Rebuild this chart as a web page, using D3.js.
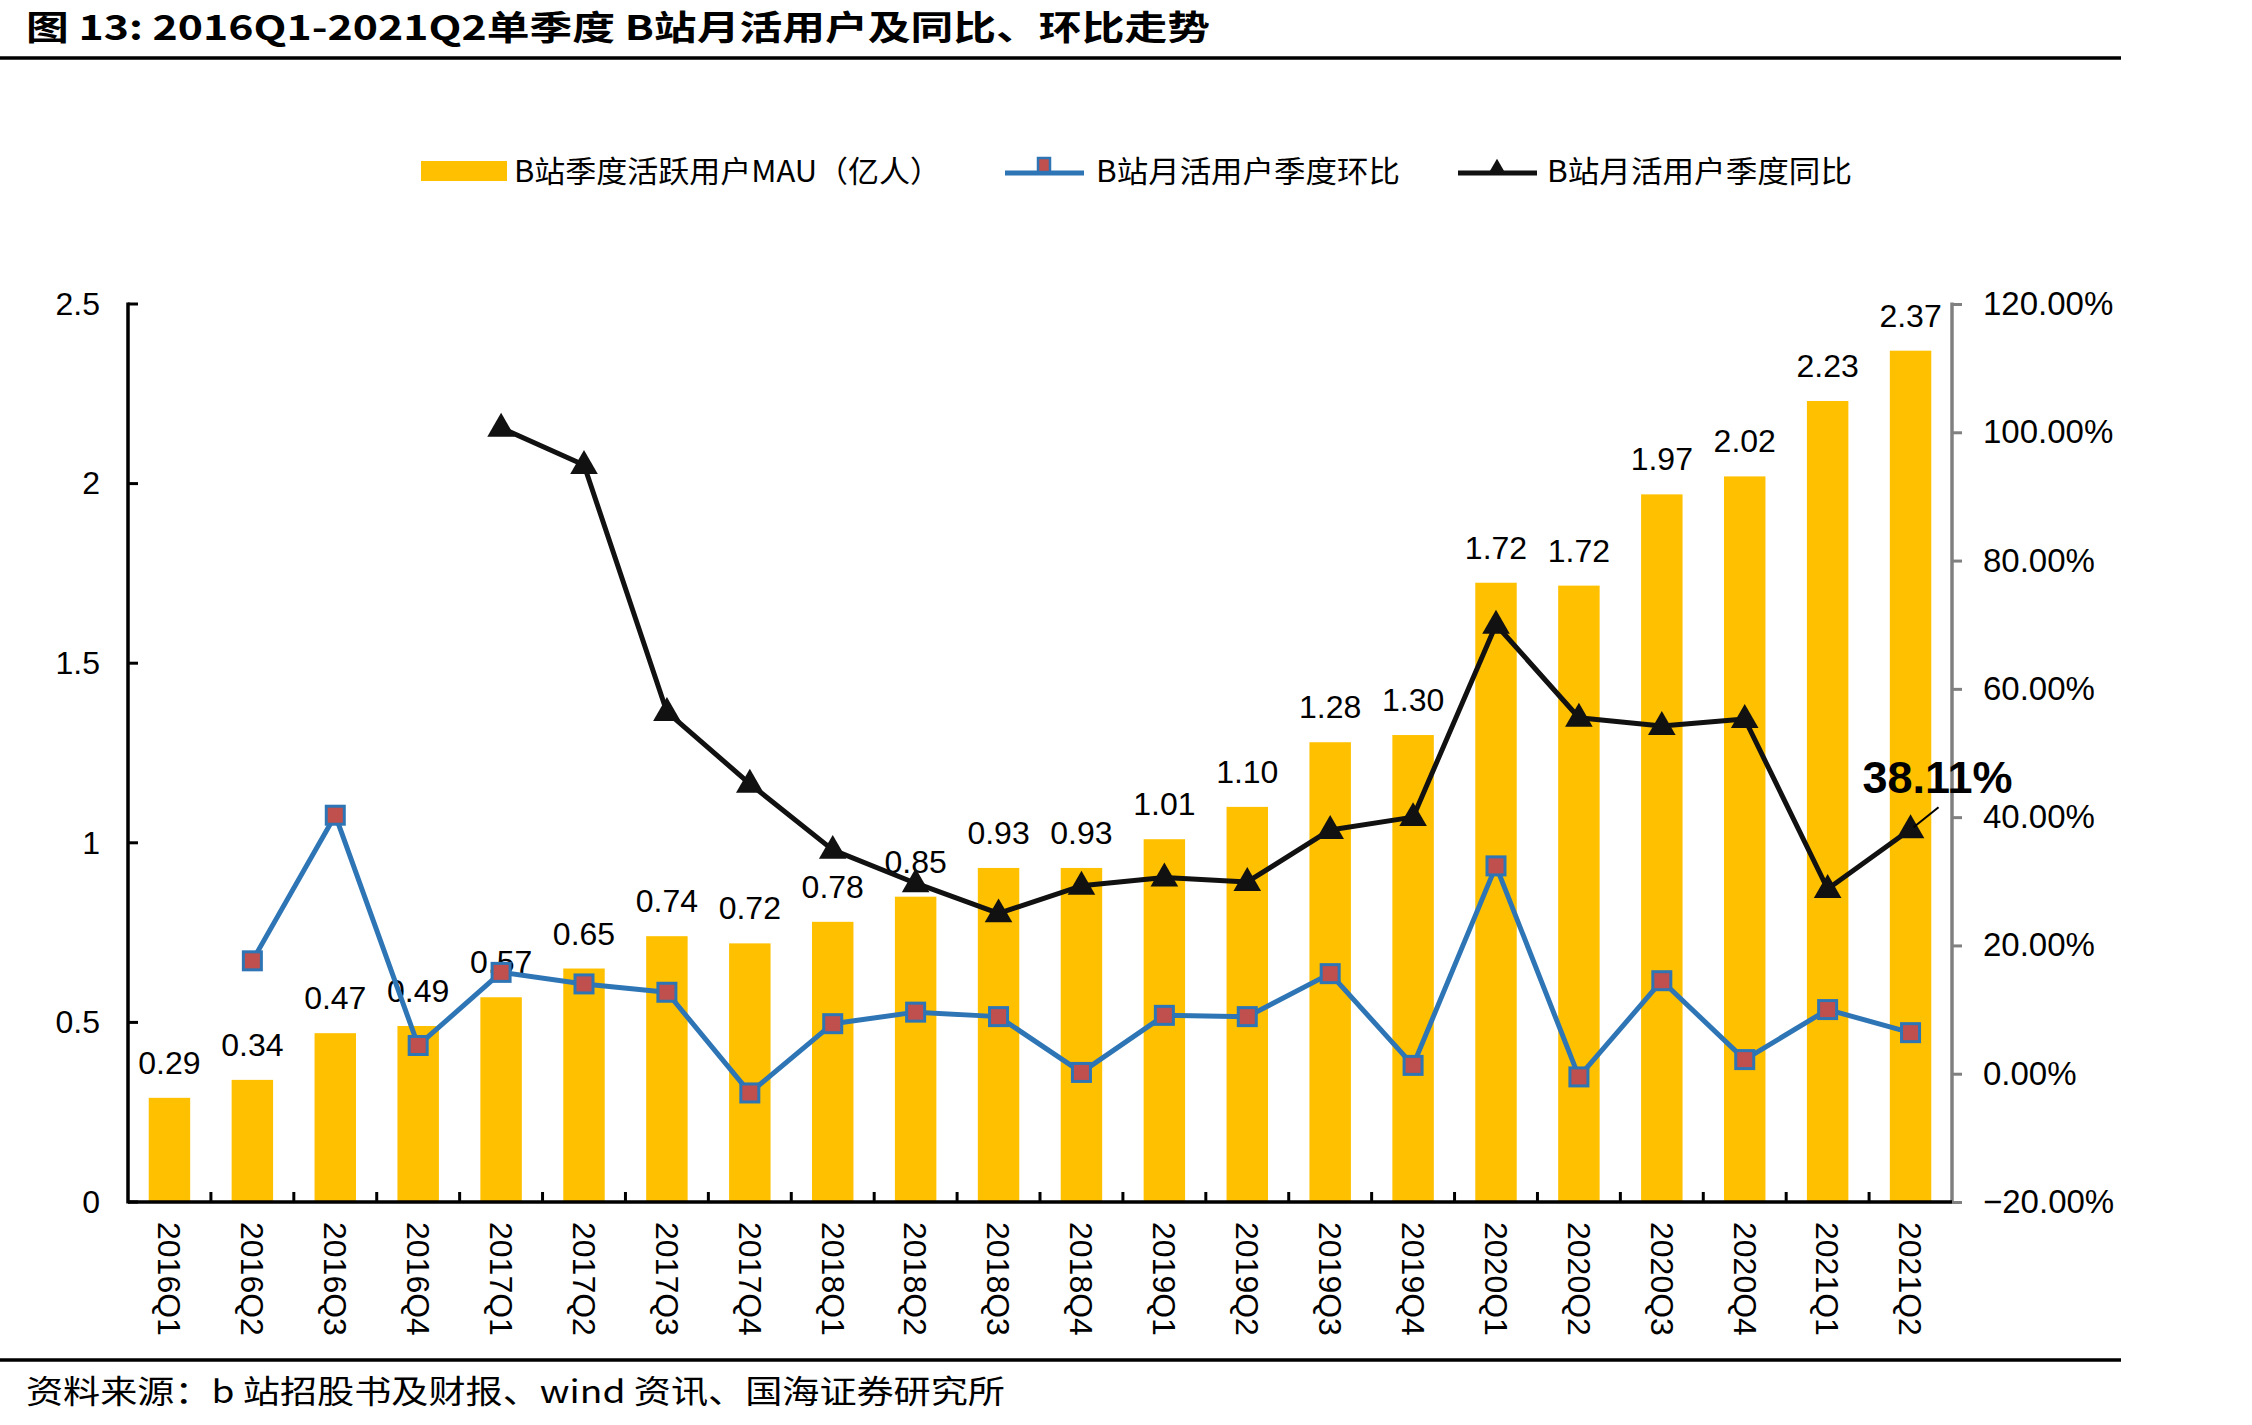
<!DOCTYPE html>
<html>
<head>
<meta charset="utf-8">
<script src="https://cdn.jsdelivr.net/npm/d3@7"></script>
<style>
  html, body { margin: 0; padding: 0; background: #fff; }
  svg { display: block; }
  text { font-family: "Liberation Sans", Arial, "Noto Sans CJK SC", sans-serif; }
  .cjk { font-family: "Noto Sans CJK SC", "Liberation Sans", sans-serif; }
</style>
</head>
<body>
<svg id="chart" width="2252" height="1425"></svg>
<script>
// ---------- data ----------
const categories = ["2016Q1","2016Q2","2016Q3","2016Q4","2017Q1","2017Q2","2017Q3","2017Q4",
  "2018Q1","2018Q2","2018Q3","2018Q4","2019Q1","2019Q2","2019Q3","2019Q4",
  "2020Q1","2020Q2","2020Q3","2020Q4","2021Q1","2021Q2"];
// MAU (亿人)
const mau = [0.29,0.34,0.47,0.49,0.57,0.65,0.74,0.72,0.78,0.85,0.93,0.93,1.01,1.10,1.28,1.30,1.724,1.716,1.97,2.02,2.23,2.37];
// 环比 (%), first quarter has no value
const qoq = [null,17.6,40.3,4.4,15.8,14.0,12.7,-3.0,7.8,9.6,8.9,0.2,9.1,8.9,15.6,1.3,32.4,-0.5,14.5,2.2,10.0,6.4];
// 同比 (%), starts 2017Q1
const yoy = [null,null,null,null,100.7,94.9,56.4,45.2,34.9,29.7,25.0,29.3,30.6,29.9,38.0,40.0,70.0,55.5,54.2,55.3,28.8,38.11];
const leftTicks = [0,0.5,1,1.5,2,2.5];
const rightTicks = [-20,0,20,40,60,80,100,120];
const seriesNames = ["B站季度活跃用户MAU（亿人）","B站月活用户季度环比","B站月活用户季度同比"];
const titleText = "图 13:  2016Q1-2021Q2单季度 B站月活用户及同比、环比走势";
const sourceText = "资料来源：b 站招股书及财报、wind 资讯、国海证券研究所";
const annotationText = "38.11%";

// ---------- layout ----------
const svg = d3.select("#chart");
const L = 128, R = 1952, T = 304, B = 1202;
const barColor = "#FFC000", blue = "#2E75B6", markerFill = "#C0504D", black = "#111111";

const x = d3.scaleBand().domain(categories).range([L, R]).paddingInner(0.5).paddingOuter(0.25);
const step = x.step();
const cx = d => x(d) + x.bandwidth() / 2;
const yL = d3.scaleLinear().domain([0, 2.5]).range([B, T]);
const yR = d3.scaleLinear().domain([-20, 120]).range([B, T]);

// title
svg.append("text").attr("class", "cjk")
  .attr("x", 26).attr("y", 40)
  .attr("font-size", 34).attr("font-weight", "bold")
  .attr("textLength", 1184).attr("lengthAdjust", "spacingAndGlyphs")
  .text(titleText);
svg.append("line").attr("x1", 0).attr("x2", 2121).attr("y1", 58).attr("y2", 58)
  .attr("stroke", "#000").attr("stroke-width", 3.5);

// legend
const lg = svg.append("g");
lg.append("rect").attr("x", 421).attr("y", 161).attr("width", 86).attr("height", 20).attr("fill", barColor);
lg.append("text").attr("class", "cjk").attr("x", 514).attr("y", 171).attr("dy", "0.35em")
  .attr("font-size", 30).attr("textLength", 427).attr("lengthAdjust", "spacingAndGlyphs").text(seriesNames[0]);
lg.append("line").attr("x1", 1005).attr("x2", 1084).attr("y1", 173).attr("y2", 173)
  .attr("stroke", blue).attr("stroke-width", 5);
lg.append("rect").attr("x", 1038).attr("y", 158).attr("width", 12).attr("height", 14)
  .attr("fill", markerFill).attr("stroke", blue).attr("stroke-width", 2.5);
lg.append("text").attr("class", "cjk").attr("x", 1096).attr("y", 171).attr("dy", "0.35em")
  .attr("font-size", 30).attr("textLength", 304).attr("lengthAdjust", "spacingAndGlyphs").text(seriesNames[1]);
lg.append("line").attr("x1", 1458).attr("x2", 1537).attr("y1", 173).attr("y2", 173)
  .attr("stroke", black).attr("stroke-width", 5);
lg.append("path").attr("d", d3.symbol(d3.symbolTriangle, 110)()).attr("transform", "translate(1497,168)")
  .attr("fill", black);
lg.append("text").attr("class", "cjk").attr("x", 1547).attr("y", 171).attr("dy", "0.35em")
  .attr("font-size", 30).attr("textLength", 305).attr("lengthAdjust", "spacingAndGlyphs").text(seriesNames[2]);

// bars
svg.append("g").selectAll("rect").data(categories).join("rect")
  .attr("x", d => x(d)).attr("width", x.bandwidth())
  .attr("y", (d, i) => yL(mau[i])).attr("height", (d, i) => B - yL(mau[i]))
  .attr("fill", barColor);

// bar labels
svg.append("g").selectAll("text").data(categories).join("text")
  .attr("x", d => cx(d)).attr("y", (d, i) => yL(mau[i]) - 24)
  .attr("text-anchor", "middle").attr("font-size", 32).attr("fill", "#000")
  .text((d, i) => d3.format(".2f")(mau[i]));

// left axis
const leftAxis = d3.axisLeft(yL).tickValues(leftTicks).tickSize(0).tickPadding(28)
  .tickFormat(d => d3.format("")(d));
const gl = svg.append("g").attr("transform", `translate(${L},0)`).call(leftAxis);
gl.select(".domain").remove();
gl.selectAll("text").attr("font-size", 32).attr("fill", "#000").attr("font-family", "Liberation Sans, Arial, sans-serif");
svg.append("g").selectAll("line").data(leftTicks).join("line")
  .attr("x1", L).attr("x2", L + 10).attr("y1", d => yL(d)).attr("y2", d => yL(d))
  .attr("stroke", "#000").attr("stroke-width", 3);
svg.append("line").attr("x1", L).attr("x2", L).attr("y1", T - 1.5).attr("y2", B + 1.5)
  .attr("stroke", "#000").attr("stroke-width", 3.5);

// right axis
const rightAxis = d3.axisRight(yR).tickValues(rightTicks).tickSize(10).tickPadding(21)
  .tickFormat(d => d3.format(".2f")(d) + "%");
const gr = svg.append("g").attr("transform", `translate(${R},0)`).call(rightAxis);
gr.select(".domain").remove();
gr.selectAll(".tick line").attr("stroke", "#808080").attr("stroke-width", 3);
gr.selectAll("text").attr("font-size", 33).attr("fill", "#000").attr("font-family", "Liberation Sans, Arial, sans-serif");
svg.append("line").attr("x1", R).attr("x2", R).attr("y1", T - 1.5).attr("y2", B)
  .attr("stroke", "#808080").attr("stroke-width", 3.5);

// bottom axis
svg.append("line").attr("x1", L).attr("x2", R).attr("y1", B).attr("y2", B)
  .attr("stroke", "#000").attr("stroke-width", 3.5);
const boundary = i => x(categories[i]) - step * x.paddingInner() / 2;
svg.append("g").selectAll("line").data(d3.range(1, categories.length)).join("line")
  .attr("x1", i => boundary(i)).attr("x2", i => boundary(i))
  .attr("y1", B).attr("y2", B - 10)
  .attr("stroke", "#000").attr("stroke-width", 3);
svg.append("g").selectAll("text").data(categories).join("text")
  .attr("transform", d => `translate(${cx(d)},1222) rotate(90)`)
  .attr("dy", "0.35em").attr("font-size", 32).attr("fill", "#000")
  .text(d => d);

// QoQ line (blue)
const qoqPts = categories.map((c, i) => ({c, v: qoq[i]})).filter(p => p.v !== null);
svg.append("path").datum(qoqPts)
  .attr("d", d3.line().x(p => cx(p.c)).y(p => yR(p.v)))
  .attr("fill", "none").attr("stroke", blue).attr("stroke-width", 5).attr("stroke-linejoin", "round");
svg.append("g").selectAll("rect").data(qoqPts).join("rect")
  .attr("x", p => cx(p.c) - 9).attr("y", p => yR(p.v) - 9)
  .attr("width", 18).attr("height", 18)
  .attr("fill", markerFill).attr("stroke", blue).attr("stroke-width", 3);

// YoY line (black)
const yoyPts = categories.map((c, i) => ({c, v: yoy[i]})).filter(p => p.v !== null);
svg.append("path").datum(yoyPts)
  .attr("d", d3.line().x(p => cx(p.c)).y(p => yR(p.v)))
  .attr("fill", "none").attr("stroke", black).attr("stroke-width", 5).attr("stroke-linejoin", "round");
svg.append("g").selectAll("path").data(yoyPts).join("path")
  .attr("d", d3.symbol(d3.symbolTriangle, 330)())
  .attr("transform", p => `translate(${cx(p.c)},${yR(p.v) + 1})`)
  .attr("fill", black);

// annotation
const last = yoyPts[yoyPts.length - 1];
const ax = cx(last.c), ay = yR(last.v);
svg.append("line").attr("x1", ax + 28).attr("y1", ay - 22).attr("x2", ax + 3).attr("y2", ay - 2)
  .attr("stroke", "#000").attr("stroke-width", 2);
svg.append("text").attr("x", ax + 27).attr("y", ay - 36)
  .attr("text-anchor", "middle").attr("font-size", 45).attr("font-weight", "bold").attr("fill", "#000")
  .text(annotationText);

// footer
svg.append("line").attr("x1", 0).attr("x2", 2121).attr("y1", 1360).attr("y2", 1360)
  .attr("stroke", "#000").attr("stroke-width", 3.5);
svg.append("text").attr("class", "cjk").attr("x", 26).attr("y", 1403)
  .attr("font-size", 32).attr("textLength", 979).attr("lengthAdjust", "spacingAndGlyphs")
  .text(sourceText);
</script>
</body>
</html>
